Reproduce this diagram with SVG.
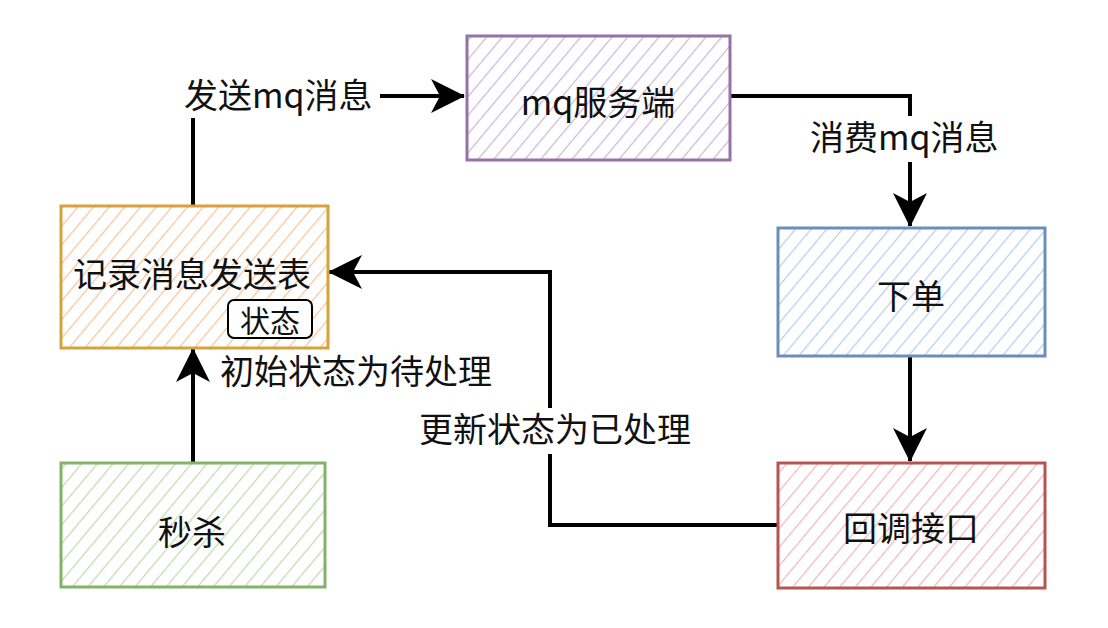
<svg xmlns="http://www.w3.org/2000/svg" width="1108" height="628" viewBox="0 0 1108 628">
<style>
text{font-family:"Noto Sans CJK SC","Noto Sans",sans-serif;fill:#111;}
.lbl{font-size:34px;}
.nt{font-size:34px;text-anchor:middle;dominant-baseline:central;}
.edge{fill:none;stroke:#000;stroke-width:4;}
.bg{fill:#fff;}
</style>
<defs>
<pattern id="hO" width="12" height="12" patternUnits="userSpaceOnUse" patternTransform="rotate(40)"><line x1="0" y1="0" x2="0" y2="12" stroke="#f9c49a" stroke-width="2.5"/></pattern>
<pattern id="hP" width="12" height="12" patternUnits="userSpaceOnUse" patternTransform="rotate(40)"><line x1="0" y1="0" x2="0" y2="12" stroke="#cbb8dc" stroke-width="2.5"/></pattern>
<pattern id="hB" width="12" height="12" patternUnits="userSpaceOnUse" patternTransform="rotate(40)"><line x1="0" y1="0" x2="0" y2="12" stroke="#b8cdee" stroke-width="2.5"/></pattern>
<pattern id="hR" width="12" height="12" patternUnits="userSpaceOnUse" patternTransform="rotate(40)"><line x1="0" y1="0" x2="0" y2="12" stroke="#f2b8b8" stroke-width="2.5"/></pattern>
<pattern id="hG" width="12" height="12" patternUnits="userSpaceOnUse" patternTransform="rotate(40)"><line x1="0" y1="0" x2="0" y2="12" stroke="#c0dcae" stroke-width="2.5"/></pattern>
<marker id="arr" viewBox="0 0 34 36" refX="33" refY="18" markerWidth="34" markerHeight="36" markerUnits="userSpaceOnUse" orient="auto"><path d="M0,1 L34,18 L0,35 L9,18 Z" fill="#000"/></marker>
</defs>
<rect width="1108" height="628" fill="#fff"/>
<g id="connectors">
<path class="edge" d="M193,205 V96 H464" marker-end="url(#arr)"/>
<rect class="bg" x="180" y="72" width="200" height="46"/>
<text class="lbl" x="184" y="108">发送mq消息</text>
<path class="edge" d="M730,96 H910 V226" marker-end="url(#arr)"/>
<rect class="bg" x="806" y="116" width="200" height="46"/>
<text class="lbl" x="810" y="150">消费mq消息</text>
<path class="edge" d="M910,357 V461" marker-end="url(#arr)"/>
<path class="edge" d="M778,525 H550 V272 H329" marker-end="url(#arr)"/>
<rect class="bg" x="416" y="408" width="290" height="46"/>
<text class="lbl" x="419" y="442">更新状态为已处理</text>
<path class="edge" d="M193,462 V349" marker-end="url(#arr)"/>
<text class="lbl" x="220" y="384">初始状态为待处理</text>
</g>
<g id="node-record">
<rect x="61" y="206" width="267" height="142" fill="url(#hO)" stroke="#d6a23a" stroke-width="3"/>
<text class="nt" x="192" y="272">记录消息发送表</text>
<rect x="228" y="300" width="84" height="38" rx="6" fill="#fff" stroke="#000" stroke-width="2"/>
<text class="nt" x="270" y="319" style="font-size:30px">状态</text>
</g>
<g id="node-mq">
<rect x="467" y="36" width="263" height="124" fill="url(#hP)" stroke="#9673a6" stroke-width="3"/>
<text class="nt" x="598" y="100">mq服务端</text>
</g>
<g id="node-order">
<rect x="778" y="228" width="267" height="128" fill="url(#hB)" stroke="#6c8ebf" stroke-width="3"/>
<text class="nt" x="911" y="294">下单</text>
</g>
<g id="node-callback">
<rect x="778" y="463" width="267" height="125" fill="url(#hR)" stroke="#b85450" stroke-width="3"/>
<text class="nt" x="911" y="526">回调接口</text>
</g>
<g id="node-seckill">
<rect x="61" y="463" width="264" height="124" fill="url(#hG)" stroke="#82b366" stroke-width="3"/>
<text class="nt" x="192" y="530">秒杀</text>
</g>
</svg>
